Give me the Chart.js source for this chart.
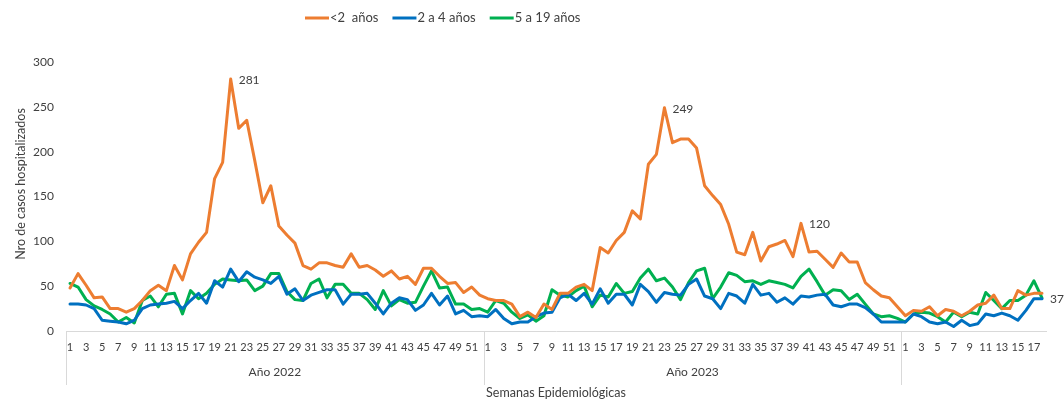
<!DOCTYPE html>
<html lang="es">
<head>
<meta charset="utf-8">
<title>Casos hospitalizados por semana epidemiológica</title>
<script src="https://cdn.jsdelivr.net/npm/chart.js@4.4.1/dist/chart.umd.min.js"></script>
<style>
  html, body { margin: 0; padding: 0; background: #fff; }
</style>
</head>
<body>
<canvas id="hospChart" width="1064" height="400"></canvas>
<script>
// Categories: epidemiological weeks grouped by year
const years = ['Año 2022', 'Año 2023', ''];
const weeksPerYear = [52, 52, 18];
const seriesNames = ['<2  años', '2 a 4 años', '5 a 19 años'];
const yTicks = [0, 50, 100, 150, 200, 250, 300];
const yTitle = 'Nro de casos hospitalizados';
const xTitle = 'Semanas Epidemiológicas';

// Hospitalised cases per week (2022 w1..52, 2023 w1..52, 2024 w1..18)
const menores2 = [
    48, 64, 51, 37, 38, 25, 25, 21, 25, 34, 45, 51, 45, 73, 57, 86, 99, 110, 170, 188,
    281, 226, 235, 190, 143, 162, 117, 107, 98, 73, 69, 76, 76, 73, 71, 86, 71, 73, 68, 61,
    67, 58, 61, 52, 70, 70, 61, 53, 54, 43, 49, 40,
    36, 34, 34, 30, 16, 21, 15, 30, 24, 42, 42, 49, 52, 45, 93, 87, 101, 110,
    134, 125, 186, 197, 249, 210, 214, 214, 204, 162, 151, 141, 119, 88, 85, 110, 78, 94, 97, 101,
    83, 120, 88, 89, 80, 71, 87, 77, 77, 54, 46, 39, 37, 27,
    17, 23, 22, 27, 17, 24, 22, 17, 22, 29, 31, 40, 25, 25, 45, 40, 42, 42
];
const de2a4 = [
    30, 30, 29, 25, 12, 11, 10, 8, 12, 25, 29, 30, 31, 33, 25, 34, 42, 31, 56, 49,
    69, 55, 66, 60, 57, 53, 61, 41, 47, 34, 40, 43, 46, 46, 30, 41, 41, 42, 31, 19,
    31, 37, 35, 23, 29, 42, 29, 39, 19, 23, 16, 17,
    16, 24, 14, 8, 10, 10, 16, 20, 21, 37, 41, 34, 42, 30, 47, 31, 41, 41,
    29, 52, 44, 32, 43, 41, 40, 52, 58, 39, 36, 25, 42, 39, 31, 52, 40, 42, 32, 37,
    30, 39, 38, 40, 41, 29, 27, 30, 30, 26, 19, 10, 10, 10,
    10, 19, 16, 10, 8, 10, 5, 12, 6, 8, 19, 17, 20, 17, 12, 23, 36, 36
];
const de5a19 = [
    53, 49, 35, 28, 24, 19, 10, 15, 9, 34, 39, 27, 41, 42, 19, 45, 36, 42, 52, 58,
    57, 56, 57, 45, 50, 64, 64, 44, 35, 34, 53, 58, 37, 52, 52, 42, 42, 35, 24, 45,
    28, 35, 31, 32, 50, 67, 48, 49, 30, 30, 24, 25,
    21, 34, 31, 21, 14, 18, 11, 17, 46, 40, 38, 45, 50, 27, 40, 38, 53, 42,
    44, 59, 69, 56, 59, 49, 35, 54, 67, 70, 36, 49, 65, 62, 55, 56, 52, 56, 54, 52,
    48, 61, 69, 55, 40, 46, 45, 35, 41, 30, 19, 16, 17, 14,
    10, 19, 21, 20, 16, 10, 21, 16, 21, 19, 43, 34, 25, 34, 34, 40, 56, 37
];

// Points that carry a value label: [series, index]
const labelledPoints = [[0, 20], [0, 74], [0, 91], [2, 121]];

const seriesColors = ['#ED7D31', '#0070C0', '#00B050'];
const textColor = '#404040';
const fontFamily = 'Lato, "Open Sans", sans-serif';

// Build the week labels from the year groups
const weekLabels = [];
weeksPerYear.forEach(n => {
    for (let w = 1; w <= n; w++) weekLabels.push(String(w));
});

// Legend, year groups, y title and value labels drawn on top of the chart
const extrasPlugin = {
    id: 'extras',
    afterDraw(chart) {
        const { ctx, chartArea } = chart;
        const x = chart.scales.x;
        ctx.save();

        // year group separators + labels under the week numbers
        const step = x.getPixelForValue(1) - x.getPixelForValue(0);
        let first = 0;
        ctx.strokeStyle = '#D9D9D9';
        ctx.lineWidth = 1;
        ctx.fillStyle = textColor;
        ctx.font = '12px ' + fontFamily;
        ctx.textAlign = 'center';
        ctx.textBaseline = 'middle';
        years.forEach((year, k) => {
            const left = x.getPixelForValue(first) - step / 2;
            const right = x.getPixelForValue(first + weeksPerYear[k] - 1) + step / 2;
            const lx = Math.round(left) + 0.5;
            ctx.beginPath();
            ctx.moveTo(lx, chartArea.bottom);
            ctx.lineTo(lx, chartArea.bottom + 54);
            ctx.stroke();
            if (year) ctx.fillText(year, (left + right) / 2, chartArea.bottom + 41);
            first += weeksPerYear[k];
        });

        // y axis title, rotated
        ctx.save();
        ctx.font = '12.5px ' + fontFamily;
        ctx.translate(21, 184);
        ctx.rotate(-Math.PI / 2);
        ctx.fillText(yTitle, 0, 0);
        ctx.restore();

        // value labels to the right of the marked points
        ctx.font = '12px ' + fontFamily;
        ctx.textAlign = 'left';
        labelledPoints.forEach(([s, i]) => {
            const pt = chart.getDatasetMeta(s).data[i];
            ctx.fillText(chart.data.datasets[s].data[i], pt.x + 8, pt.y + 1);
        });

        // legend (line markers)
        ctx.font = '13px ' + fontFamily;
        let lx = 305;
        const ly = 18;
        chart.data.datasets.forEach(ds => {
            ctx.strokeStyle = ds.borderColor;
            ctx.lineWidth = 3;
            ctx.beginPath();
            ctx.moveTo(lx, ly);
            ctx.lineTo(lx + 24, ly);
            ctx.stroke();
            ctx.fillText(ds.label, lx + 25, ly);
            lx += 25 + ctx.measureText(ds.label).width + 14;
        });

        ctx.restore();
    }
};

const ctx = document.getElementById('hospChart').getContext('2d');
const hospChart = new Chart(ctx, {
    type: 'line',
    data: {
        labels: weekLabels,
        datasets: [
            { label: seriesNames[0], data: menores2, borderColor: seriesColors[0], backgroundColor: seriesColors[0] },
            { label: seriesNames[1], data: de2a4, borderColor: seriesColors[1], backgroundColor: seriesColors[1] },
            { label: seriesNames[2], data: de5a19, borderColor: seriesColors[2], backgroundColor: seriesColors[2] }
        ]
    },
    options: {
        responsive: false,
        animation: false,
        layout: { padding: { top: 62, right: 18, bottom: 0, left: 0 } },
        elements: {
            point: { radius: 0 },
            line: { borderWidth: 3, tension: 0, borderJoinStyle: 'round', borderCapStyle: 'round' }
        },
        plugins: {
            legend: { display: false },
            tooltip: { enabled: false }
        },
        scales: {
            x: {
                offset: true,
                grid: { display: false, drawTicks: false },
                border: { display: true, color: '#D9D9D9' },
                ticks: {
                    autoSkip: false,
                    maxRotation: 0,
                    minRotation: 0,
                    padding: 10,
                    color: textColor,
                    font: { family: fontFamily, size: 11 },
                    // only odd weeks are labelled
                    callback: (val, i) => (Number(weekLabels[i]) % 2 === 1 ? weekLabels[i] : '')
                },
                title: {
                    display: true,
                    text: xTitle,
                    color: textColor,
                    font: { family: fontFamily, size: 12.5 },
                    padding: { top: 0, bottom: 0 }
                },
                afterFit: scale => { scale.height = 69; }
            },
            y: {
                min: yTicks[0],
                max: yTicks[yTicks.length - 1],
                afterBuildTicks: scale => { scale.ticks = yTicks.map(v => ({ value: v })); },
                grid: { display: false, drawTicks: false },
                border: { display: false },
                ticks: {
                    padding: 12,
                    color: textColor,
                    font: { family: fontFamily, size: 12 }
                },
                afterFit: scale => { scale.width = 66; }
            }
        }
    },
    plugins: [extrasPlugin]
});
</script>
</body>
</html>
